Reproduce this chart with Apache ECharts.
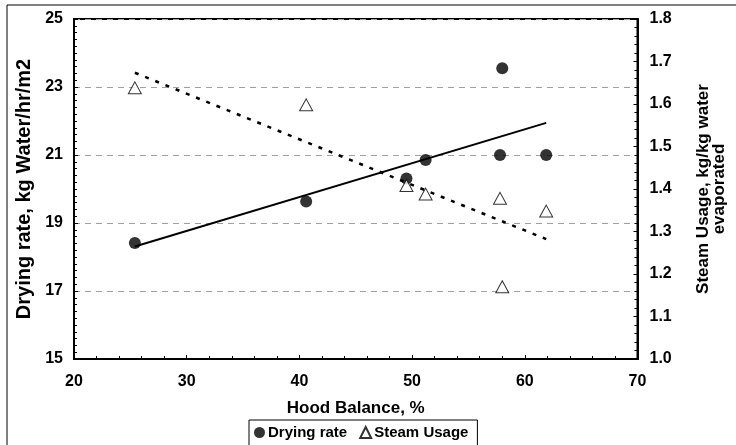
<!DOCTYPE html>
<html>
<head>
<meta charset="utf-8">
<script src="https://cdn.jsdelivr.net/npm/echarts@6/dist/echarts.min.js"></script>
<style>html,body{margin:0;padding:0;background:#fff;}#c{width:736px;height:445px;}</style>
</head>
<body>
<div id="c"></div>
<script>
// Data
const hoodBalance = [25.4, 40.6, 49.5, 51.2, 57.8, 58.0, 61.9];
const dryingRate  = [18.41, 19.63, 20.31, 20.85, 21.0, 23.55, 21.0];
const steamUsage  = [1.638, 1.598, 1.408, 1.388, 1.378, 1.170, 1.348];
const xTicks = [20, 30, 40, 50, 60, 70];
const leftTicks = [15, 17, 19, 21, 23, 25];
const rightTicks = [1.0, 1.1, 1.2, 1.3, 1.4, 1.5, 1.6, 1.7, 1.8];

function linFit(xs, ys) {
  const n = xs.length;
  const mx = xs.reduce((a, b) => a + b, 0) / n;
  const my = ys.reduce((a, b) => a + b, 0) / n;
  let sxy = 0, sxx = 0;
  for (let i = 0; i < n; i++) { sxy += (xs[i] - mx) * (ys[i] - my); sxx += (xs[i] - mx) ** 2; }
  const b = sxy / sxx, a = my - b * mx;
  const x0 = Math.min(...xs), x1 = Math.max(...xs);
  return [[x0, a + b * x0], [x1, a + b * x1]];
}

const FONT = 'Liberation Sans';
const chart = echarts.init(document.getElementById('c'), null, {renderer: 'canvas'});
chart.setOption({
  animation: false,
  backgroundColor: '#fff',
  textStyle: {fontFamily: FONT},
  grid: {left: 74, top: 19, width: 569, height: 340, show: true, borderColor: '#000', borderWidth: 2, backgroundColor: 'transparent'},
  graphic: [{type: 'rect', shape: {x: 7, y: 5, width: 740, height: 450}, style: {fill: 'none', stroke: '#000', lineWidth: 1}, silent: true}],
  legend: {
    left: 249, top: 420,
    data: [{name: 'Drying rate', icon: 'circle'}, {name: 'Steam Usage', icon: 'triangle'}],
    itemWidth: 11, itemHeight: 11, itemGap: 12,
    borderColor: '#000', borderWidth: 1, padding: [5, 9, 8, 5],
    textStyle: {fontFamily: FONT, fontWeight: 'bold', fontSize: 15, color: '#000', padding: [0, 0, 0, -2]}
  },
  xAxis: {
    type: 'value', min: xTicks[0], max: xTicks[xTicks.length - 1], interval: 10,
    name: 'Hood Balance, %', nameLocation: 'middle', nameGap: 41,
    nameTextStyle: {fontFamily: FONT, fontWeight: 'bold', fontSize: 17, color: '#000'},
    axisLine: {lineStyle: {color: '#000', width: 2}},
    axisTick: {inside: true, length: 4, lineStyle: {color: '#000'}},
    minorTick: {show: true, splitNumber: 5, length: 3, lineStyle: {color: '#000'}},
    axisLabel: {fontFamily: FONT, fontWeight: 'bold', fontSize: 16, color: '#000', margin: 15},
    splitLine: {show: false}
  },
  yAxis: [{
    type: 'value', min: leftTicks[0], max: leftTicks[leftTicks.length - 1], interval: 2,
    name: 'Drying rate, kg Water/hr/m2', nameLocation: 'middle', nameGap: 40, nameRotate: 90,
    nameTextStyle: {fontFamily: FONT, fontWeight: 'bold', fontSize: 20, color: '#000'},
    axisLine: {show: true, lineStyle: {color: '#000', width: 2}},
    axisTick: {inside: true, length: 4, lineStyle: {color: '#000'}},
    minorTick: {show: true, splitNumber: 10, length: 3, lineStyle: {color: '#000'}},
    axisLabel: {fontFamily: FONT, fontWeight: 'bold', fontSize: 16, color: '#000', margin: 11},
    splitLine: {show: true, lineStyle: {color: '#a0a0a0', width: 1, type: [6, 5]}}
  }, {
    type: 'value', min: rightTicks[0], max: rightTicks[rightTicks.length - 1], interval: 0.1,
    position: 'right',
    name: 'Steam Usage, kg/kg water\nevaporated', nameLocation: 'middle', nameGap: 58, nameRotate: 90,
    nameTextStyle: {fontFamily: FONT, fontWeight: 'bold', fontSize: 17, color: '#000', lineHeight: 16},
    axisLine: {show: true, lineStyle: {color: '#000', width: 2}},
    axisTick: {inside: true, length: 4, lineStyle: {color: '#000'}},
    minorTick: {show: true, splitNumber: 5, length: 3, lineStyle: {color: '#000'}},
    axisLabel: {fontFamily: FONT, fontWeight: 'bold', fontSize: 16, color: '#000', margin: 12, formatter: v => v.toFixed(1)},
    splitLine: {show: false}
  }],
  series: [{
    name: 'Drying rate', type: 'scatter', yAxisIndex: 0, symbol: 'circle', symbolSize: 12,
    itemStyle: {color: '#000'},
    data: hoodBalance.map((x, i) => [x, dryingRate[i]]), z: 5
  }, {
    name: 'Steam Usage', type: 'scatter', yAxisIndex: 1, symbol: 'triangle', symbolSize: [13, 12],
    itemStyle: {color: '#fff', borderColor: '#000', borderWidth: 1},
    data: hoodBalance.map((x, i) => [x, steamUsage[i]]), z: 5
  }, {
    name: 'dryTrend', type: 'line', yAxisIndex: 0, symbol: 'none',
    lineStyle: {color: '#000', width: 2}, data: linFit(hoodBalance, dryingRate), z: 3
  }, {
    name: 'steamTrend', type: 'line', yAxisIndex: 1, symbol: 'none',
    lineStyle: {color: '#000', width: 2.5, type: [4, 7]}, data: linFit(hoodBalance, steamUsage), z: 3
  }]
});
</script>
</body>
</html>
